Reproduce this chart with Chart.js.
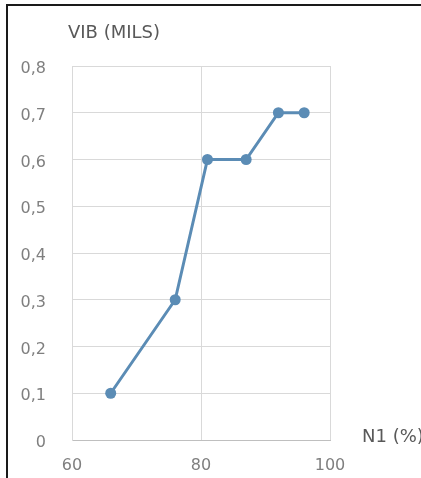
<!DOCTYPE html>
<html>
<head>
<meta charset="utf-8">
<script src="https://cdn.jsdelivr.net/npm/chart.js@4.4.0/dist/chart.umd.min.js"></script>
<style>
  html, body { margin: 0; padding: 0; background: #fff; }
  #wrap { position: relative; width: 421px; height: 478px; overflow: hidden; }
  #frame { position: absolute; left: 6px; top: 4px; width: 500px; height: 500px;
           border-left: 2px solid #1a1a1a; border-top: 2px solid #1a1a1a; }
  canvas { position: absolute; left: 0; top: 0; }
</style>
</head>
<body>
<div id="wrap">
  <div id="frame"></div>
  <canvas id="chart" width="421" height="478"></canvas>
</div>
<script>
// N1 (%) vs vibration (mils)
const n1Values = [66, 76, 81, 87, 92, 96];
const vibValues = [0.1, 0.3, 0.6, 0.6, 0.7, 0.7];
const xTicks = [60, 80, 100];
const yTicks = [0, 0.1, 0.2, 0.3, 0.4, 0.5, 0.6, 0.7, 0.8];
const yTitle = 'VIB (MILS)';
const xTitle = 'N1 (%)';

const lineColor = '#5b8cb5';
const fontFamily = '"DejaVu Sans", sans-serif';

const axisTitles = {
  id: 'axisTitles',
  afterDraw(chart) {
    const { ctx, chartArea } = chart;
    ctx.save();
    ctx.fillStyle = '#595959';
    ctx.font = '18px ' + fontFamily;
    ctx.textBaseline = 'middle';
    ctx.textAlign = 'left';
    ctx.fillText(yTitle, chartArea.left - 4, 33);
    ctx.fillText(xTitle, chartArea.right + 32, chartArea.bottom - 3);
    ctx.restore();
  }
};

new Chart(document.getElementById('chart').getContext('2d'), {
  type: 'scatter',
  data: {
    datasets: [{
      data: n1Values.map((x, i) => ({ x: x, y: vibValues[i] })),
      showLine: true,
      borderColor: lineColor,
      backgroundColor: lineColor,
      borderWidth: 3,
      pointRadius: 5.5,
      pointBorderWidth: 0,
      pointBackgroundColor: lineColor
    }]
  },
  options: {
    responsive: false,
    animation: false,
    layout: { padding: { top: 66, right: 91, bottom: 0, left: 0 } },
    plugins: { legend: { display: false }, tooltip: { enabled: false } },
    scales: {
      x: {
        type: 'linear',
        min: 60, max: 100,
        afterBuildTicks: s => { s.ticks = xTicks.map(v => ({ value: v })); },
        afterFit: s => { s.height = 38; },
        grid: { color: '#d9d9d9', drawTicks: false },
        border: { color: '#bfbfbf' },
        ticks: { padding: 16, color: '#7f7f7f', font: { family: fontFamily, size: 16 } }
      },
      y: {
        min: 0, max: 0.8,
        afterBuildTicks: s => { s.ticks = yTicks.map(v => ({ value: v })); },
        afterFit: s => { s.width = 72; },
        grid: { color: '#d9d9d9', drawTicks: false },
        border: { color: '#d9d9d9' },
        ticks: {
          padding: 26,
          labelOffset: 3,
          color: '#7f7f7f',
          font: { family: fontFamily, size: 16 },
          callback: v => v === 0 ? '0' : v.toFixed(1).replace('.', ',')
        }
      }
    }
  },
  plugins: [axisTitles]
});
</script>
</body>
</html>
